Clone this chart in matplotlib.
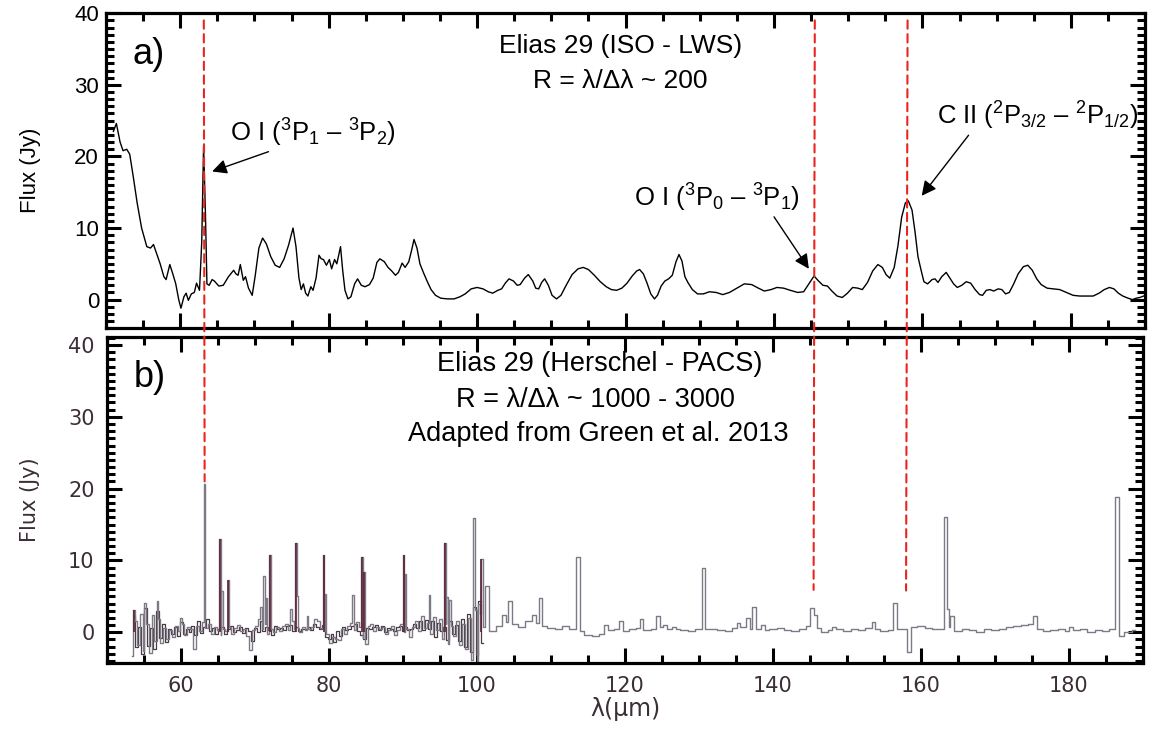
import numpy as np
import matplotlib
matplotlib.use("Agg")
import matplotlib.pyplot as plt
from matplotlib.patches import ConnectionPatch
from matplotlib.ticker import MultipleLocator

plt.rcParams['font.family'] = ['Liberation Sans', 'DejaVu Sans']
plt.rcParams['mathtext.fontset'] = 'custom'
plt.rcParams['mathtext.rm'] = 'Liberation Sans'
plt.rcParams['mathtext.default'] = 'regular'

# ---------------- ISO-LWS spectrum (panel a) ----------------
iso_wave = [51.0, 51.4, 51.9, 52.3, 52.8, 53.2, 53.7, 54.2, 54.8, 55.5, 56.0, 56.4, 56.9, 57.3, 57.8,
            58.1, 58.6, 59.0, 59.4, 59.8, 60.1, 60.5, 60.8, 61.1, 61.5, 61.9, 62.2, 62.6, 62.9, 63.15,
            63.4, 63.6, 63.9, 64.3, 64.6, 65.2, 65.8, 66.5, 67.2, 67.5, 67.8, 68.1, 68.5, 68.8, 69.2,
            69.7, 70.1, 70.6, 71.1, 71.6, 72.2, 72.8, 73.4, 74.0, 74.6, 75.2, 75.6, 76.0, 76.3, 76.6,
            76.9, 77.2, 77.6, 77.9, 78.3, 78.7, 79.0, 79.3, 79.7, 80.1, 80.4, 80.8, 81.1, 81.6, 81.9,
            82.2, 82.6, 83.0, 83.5, 83.9, 84.4, 84.9, 85.5, 86.0, 86.5, 86.9, 87.5, 88.0, 88.5, 89.0,
            89.4, 89.9, 90.3, 90.8, 91.2, 91.5, 91.9, 92.3, 92.8, 93.3, 93.8, 94.4, 95.1, 96.0, 96.9,
            97.7, 98.4, 99.2, 100.0, 100.8, 101.5, 102.1, 102.8, 103.3, 103.8, 104.3, 104.9, 105.4, 105.8,
            106.4, 106.9, 107.5, 107.9, 108.3, 108.7, 109.1, 109.6, 110.1, 110.7, 111.3, 112.0, 112.8,
            113.6, 114.3, 115.0, 115.8, 116.6, 117.4, 118.1, 118.8, 119.5, 120.2, 120.9, 121.5, 121.9,
            122.4, 122.9, 123.4, 123.9, 124.3, 124.8, 125.3, 125.8, 126.3, 126.8, 127.2, 127.6, 128.0,
            128.4, 129.0, 129.7, 130.5, 131.3, 132.2, 133.1, 134.0, 135.0, 136.0, 137.0, 137.9, 138.7,
            139.6, 140.4, 141.3, 142.2, 143.2, 144.0, 144.7, 145.4, 146.0, 146.6, 147.2, 147.8, 148.5,
            149.2, 149.9, 150.6, 151.3, 151.9, 152.6, 153.3, 154.0, 154.6, 155.1, 155.6, 156.2, 156.7,
            157.2, 157.7, 158.1, 158.6, 159.0, 159.4, 159.8, 160.2, 160.7, 161.3, 161.7, 162.1, 162.6,
            163.2, 163.7, 164.2, 164.7, 165.3, 165.9, 166.5, 167.1, 167.7, 168.1, 168.6, 169.1, 169.6,
            170.2, 170.7, 171.2, 171.7, 172.3, 172.9, 173.6, 174.2, 174.8, 175.4, 176.0, 176.8, 177.6,
            178.5, 179.4, 180.3, 181.2, 182.1, 183.0, 183.8, 184.5, 185.2, 185.8, 186.4, 187.0, 187.7,
            188.3, 188.8, 189.3, 189.8]
iso_flux = [23.5, 24.6, 22.0, 20.8, 21.0, 20.3, 17.0, 13.5, 10.0, 7.4, 7.2, 7.7, 6.2, 5.0, 3.2,
            2.8, 4.9, 3.6, 2.2, 0.0, -1.2, 0.4, 0.9, -0.1, 0.8, 1.0, 2.3, 1.3, 8.0, 21.5,
            12.0, 2.2, 2.0, 2.8, 2.6, 1.9, 2.0, 3.2, 4.1, 3.6, 3.4, 4.9, 2.7, 3.2, 1.6,
            0.6, 3.3, 7.2, 8.6, 7.8, 6.0, 4.8, 4.5, 5.7, 7.6, 10.0, 7.4, 3.0, 1.4, 2.2,
            0.9, 0.5, 1.8, 1.3, 3.0, 6.2, 5.7, 5.6, 4.8, 5.6, 4.3, 5.6, 5.0, 7.4, 4.0,
            1.3, 0.1, 0.4, 2.2, 2.9, 2.0, 1.8, 2.1, 3.0, 5.2, 5.7, 5.3, 4.5, 4.0, 3.4,
            3.8, 5.1, 4.5, 5.3, 7.0, 8.4, 7.2, 5.0, 3.7, 2.5, 1.4, 0.6, 0.2, 0.1, 0.1,
            0.4, 0.8, 1.5, 1.7, 1.5, 1.1, 0.9, 1.3, 1.5, 2.3, 2.9, 2.6, 2.0, 2.1,
            3.0, 3.5, 2.6, 1.6, 1.5, 2.4, 2.9, 2.0, 0.6, 0.1, 0.6, 2.0, 3.5,
            4.3, 4.5, 4.2, 3.4, 2.5, 1.8, 1.4, 1.3, 1.6, 2.3, 3.3, 4.0, 4.2,
            3.6, 2.3, 0.8, 0.1, 0.6, 1.9, 2.6, 2.9, 3.4, 5.3, 6.3, 5.4, 3.2,
            2.4, 1.4, 0.8, 0.8, 1.1, 1.0, 0.7, 1.0, 1.6, 2.2, 2.1, 1.6, 1.2,
            1.4, 1.7, 1.6, 1.3, 1.0, 1.1, 2.2, 3.3, 2.6, 2.0, 1.9, 1.2, 0.5,
            0.3, 0.9, 1.7, 1.6, 1.4, 2.4, 4.0, 4.9, 4.5, 3.5, 3.0, 4.5, 7.5,
            11.5, 13.5, 13.8, 12.5, 9.5, 6.0, 4.2, 2.5, 2.2, 2.8, 2.9, 2.4, 3.2,
            3.8, 3.0, 2.2, 1.7, 2.0, 2.5, 2.3, 1.4, 0.7, 0.6, 1.3, 1.4, 1.2,
            1.5, 1.4, 0.8, 1.0, 2.2, 3.6, 4.6, 4.8, 4.1, 2.9, 2.1, 1.6, 1.5,
            1.4, 1.0, 0.6, 0.5, 0.5, 0.5, 0.9, 1.4, 1.7, 1.5, 0.9, 0.5, 0.2,
            0.0, 0.2, 0.3, 0.5]

# ---------------- Herschel-PACS spectrum (panel b) ----------------
# blue-band noisy part, first segment sampled every 0.4 micron from 53.4
pacs_blue_start, pacs_blue_step = 53.4, 0.4
pacs_blue_flux = [-3.3, 1.5, -1.8, 2.6, -2.6, 1.2, -2.9, 2.4, -1.2, 1.8,
                  -1.5, 0.6, -0.9, 0.3, -0.6, 0.9, 0.2, 1.1, -0.4, 0.8,
                  0.5, -2.3, 0.9, 0.2, 1.4, 0.6, 1.2, -0.2, 0.8, 0.3,
                  -0.4, 0.5, 0.2, 0.7, -0.3, 0.6, 1.0, 0.2, 0.5, -0.5,
                  -2.5, 0.3, 0.9, 1.8, 0.4, 1.2, -0.3, 0.5, 0.0, 0.8,
                  0.2, 0.9, 1.1, 0.3, 1.6, 0.4, 0.6, 0.1, 0.8, 0.3,
                  0.5, 0.7, 1.9, 1.5, 0.6, 0.2, -0.3, -1.5, -0.6, -0.9,
                  -1.1, 0.4, -0.2, 0.9, 1.3, 0.3, 1.4, 0.7, -0.8, -1.6,
                  0.9, 1.1, 0.2, 0.8, 0.4, 0.7, -0.2, 0.3, 0.9, -0.4,
                  0.3, 1.2, 0.1, 0.5, -0.7, 0.8, 1.5, 0.2, 2.2, 0.6,
                  1.3, -0.2, 2.1, 0.3, 1.8, -0.9, 1.2, -1.6, 0.9, -0.5,
                  1.6, -1.8, 1.1, -2.4, 2.0, -3.8, 3.1, -4.0, 2.5]
# blue-band second (overlapping) segment, sampled every 0.4 micron from 53.6
pacs_blue2_start, pacs_blue2_step = 53.6, 0.4
pacs_blue2_flux = [2.2, -2.1, 0.8, -3.0, 3.4, -1.9, 0.6, -2.4, 2.9, -0.8,
                   1.2, -1.3, 0.4, -0.2, 0.7, -0.5, 1.4, -0.3, 0.5, 0.1,
                   0.9, -0.4, 1.6, -0.1, 0.7, 1.8, 0.2, 0.6, -0.3, 0.5,
                   0.8, -0.2, 0.4, 0.9, 0.1, 0.3, 0.7, -0.1, 0.6, 0.2,
                   -1.2, 0.6, 0.1, 1.5, 0.2, 0.7, 0.3, -0.4, 0.9, 0.4,
                   0.6, 0.3, 0.9, 1.0, 0.2, 0.8, 0.2, 0.5, 0.4, 0.7,
                   0.3, 1.2, 0.8, 0.4, 1.0, -0.6, -0.9, -0.2, -1.3, 0.2,
                   -0.5, 0.8, 0.3, 0.5, 0.9, 1.1, 0.2, -0.4, -0.9, 0.6,
                   0.4, 0.7, 1.0, 0.3, 0.9, 0.1, 0.6, 0.4, 0.2, 0.8,
                   0.9, 0.2, 0.8, 0.3, 0.4, 1.1, 0.6, 1.6, 0.3, 1.7,
                   0.4, 1.5, -0.6, 1.3, 0.2, 0.8, -1.1, 1.6, -0.2, 1.0,
                   -1.2, 1.9, -2.0, 2.6, -2.8, 3.5, -3.2, 4.4, -1.5]
# red-band part, sampled every 1 micron from 101 to 189
pacs_red_start, pacs_red_step = 101.0, 1.0
pacs_red_flux = [0.8, 0.2, 0.9, 1.4, 1.1, 0.7, 1.5, 1.3, 0.9, 0.6,
                 0.4, 0.9, 0.5, 0.2, -0.4, -0.5, -0.2, 0.3, 0.5, 0.2,
                 0.4, 0.6, 0.3, 0.5, 0.7, 0.4, 0.5, 0.3, 0.2, 0.4,
                 0.5, 0.4, 0.3, 0.2, 0.6, 0.8, 0.5, 0.4, 0.3, 0.5,
                 0.6, 0.3, 0.2, 0.5, 0.9, 0.6, 0.0, 0.3, 0.4, 0.2,
                 0.5, 0.3, 0.6, 0.4, 0.2, 0.3, 0.4, 0.5, 0.8, 0.9,
                 0.6, 0.4, 0.5, 0.7, 0.2, 0.5, 0.3, 0.1, 0.4, 0.3,
                 0.5, 0.7, 0.9, 1.0, 1.2, 0.4, 0.2, 0.3, 0.5, 0.2,
                 0.3, 0.4, 0.1, 0.3, 0.2, 0.4, -0.5, 0.1, 0.3]
# emission lines
line_wave = [53.6, 55.0, 56.8, 60.0, 63.18, 65.3, 65.45, 66.4, 70.8, 71.2, 71.5, 72.0, 74.9, 75.5,
             75.7, 77.0, 79.3, 79.45, 83.3, 84.5, 84.7, 90.1, 90.3, 93.6, 95.7, 95.9, 96.3,
             99.6, 100.2, 100.6, 101.2, 103.8, 104.4, 107.9, 108.7, 113.8, 117.3, 119.5, 122.0,
             124.4, 125.4, 126.8, 130.7, 135.2, 136.8, 137.4, 138.8, 145.1, 145.9, 148.0,
             153.7, 156.6, 158.2, 163.3, 163.7, 164.0, 175.3, 180.0, 186.6]
line_flux = [3.1, 4.1, 4.3, 2.0, 20.6, 13.0, 5.8, 7.3, 3.5, 7.8, 4.8, 10.7, 3.2, 12.4,
             5.0, 2.2, 10.7, 5.3, 5.2, 10.5, 8.4, 10.7, 8.1, 5.2, 12.4, 4.9, 4.5,
             15.9, 4.0, 10.2, 6.4, 2.4, 4.3, 2.4, 4.8, 10.5, 1.0, 1.5, 1.8,
             2.2, 1.0, 0.8, 8.9, 1.3, 2.0, 3.5, 1.0, 3.4, 2.4, 0.8,
             1.4, 4.1, -2.7, 16.1, 3.2, 2.2, 2.2, 0.8, 18.8]
# lines drawn from the darker segments
dark_line_wave = [53.6, 65.3, 66.4, 72.0, 75.5, 79.3, 84.5, 84.7, 90.1, 95.7, 100.6]
dark_line_flux = [3.1, 13.0, 7.3, 10.7, 12.4, 10.7, 10.5, 8.4, 10.7, 12.4, 10.2]

# line identifications
mark_wave = [63.18, 145.5, 158.0]
mark_flux_b = [21.0, 5.9, 5.8]

fig = plt.figure(figsize=(11.52, 7.36), dpi=100)
ax1 = fig.add_axes([0.092, 0.554, 0.902, 0.428])
ax2 = fig.add_axes([0.093, 0.099, 0.899, 0.443])

for ax in (ax1, ax2):
    for s in ax.spines.values():
        s.set_linewidth(2.3)
    ax.set_xlim(50, 190)
    ax.xaxis.set_major_locator(MultipleLocator(20))
    ax.xaxis.set_minor_locator(MultipleLocator(5))
    ax.yaxis.set_major_locator(MultipleLocator(10))
    ax.yaxis.set_minor_locator(MultipleLocator(1))
    ax.tick_params(which='both', direction='in', top=True, right=True, width=2.2)
    ax.tick_params(which='major', length=11)
    ax.tick_params(which='minor', length=5.5)

# panel a
ax1.plot(iso_wave, iso_flux, color='black', lw=1.0)
ax1.set_ylim(-4, 40)
ax1.set_yticks([0, 10, 20, 30, 40])
ax1.tick_params(labelbottom=False, labelsize=16, pad=5)
ax1.set_ylabel('Flux (Jy)', fontsize=16, labelpad=24)
ax1.text(55.8, 34.2, 'a)', fontsize=26, ha='center', va='center')
ax1.text(119.3, 35.4, 'Elias 29 (ISO - LWS)', fontsize=19, ha='center', va='center')
ax1.text(119.3, 30.6, 'R = λ/Δλ ~ 200', fontsize=19, ha='center', va='center')
ax1.annotate(r'O I ($^3$P$_1$ – $^3$P$_2$)', xy=(64.3, 17.9), xytext=(66.7, 23.3),
             fontsize=18.5, ha='left', va='center',
             arrowprops=dict(arrowstyle='-|>', color='black', lw=1.0, mutation_scale=22,
                             shrinkA=0, shrinkB=0, relpos=(0.28, 0.0)))
ax1.annotate(r'O I ($^3$P$_0$ – $^3$P$_1$)', xy=(144.7, 4.3), xytext=(121.2, 14.2),
             fontsize=18.5, ha='left', va='center',
             arrowprops=dict(arrowstyle='-|>', color='black', lw=1.0, mutation_scale=22,
                             shrinkA=0, shrinkB=0, relpos=(0.83, 0.0)))
ax1.annotate(r'C II ($^2$P$_{3/2}$ – $^2$P$_{1/2}$)', xy=(159.9, 14.5), xytext=(161.9, 25.6),
             fontsize=18.5, ha='left', va='center',
             arrowprops=dict(arrowstyle='-|>', color='black', lw=1.0, mutation_scale=22,
                             shrinkA=0, shrinkB=0, relpos=(0.17, 0.0)))

# panel b
blue_wave = pacs_blue_start + pacs_blue_step * np.arange(len(pacs_blue_flux))
blue2_wave = pacs_blue2_start + pacs_blue2_step * np.arange(len(pacs_blue2_flux))
red_wave = pacs_red_start + pacs_red_step * np.arange(len(pacs_red_flux))
ax2.plot(blue2_wave, pacs_blue2_flux, drawstyle='steps-mid', color='#4a3c45', lw=0.9)
all_wave = np.concatenate([blue_wave, red_wave, line_wave])
all_flux = np.concatenate([pacs_blue_flux, pacs_red_flux, line_flux])
order = np.argsort(all_wave, kind='stable')
ax2.plot(all_wave[order], all_flux[order], drawstyle='steps-mid', color='#7d7a86', lw=1.0)
ax2.vlines(dark_line_wave, 0, dark_line_flux, color='#5b2035', lw=1.2)

bcol = '#3b2e36'
ax2.set_ylim(-4.3, 41.1)
ax2.set_yticks([0, 10, 20, 30, 40])
ax2.set_xticks([60, 80, 100, 120, 140, 160, 180])
ax2.tick_params(labelsize=15, labelcolor=bcol, pad=9)
for lab in ax2.get_xticklabels() + ax2.get_yticklabels():
    lab.set_family('DejaVu Sans')
ax2.set_ylabel('Flux (Jy)', fontsize=15, color=bcol, family='DejaVu Sans', labelpad=20)
ax2.set_xlabel('λ(μm)', fontsize=17, color=bcol, family='DejaVu Sans', labelpad=1)
ax2.text(55.8, 35.5, 'b)', fontsize=26, ha='center', va='center')
ax2.text(116.6, 37.3, 'Elias 29 (Herschel - PACS)', fontsize=19.5, ha='center', va='center')
ax2.text(116.0, 32.4, 'R = λ/Δλ ~ 1000 - 3000', fontsize=19.5, ha='center', va='center')
ax2.text(116.4, 27.6, 'Adapted from Green et al. 2013', fontsize=19.5, ha='center', va='center')

for w, fb in zip(mark_wave, mark_flux_b):
    con = ConnectionPatch(xyA=(w, 39.0), coordsA=ax1.transData,
                          xyB=(w, fb), coordsB=ax2.transData,
                          color='#e8261f', lw=1.5, linestyle=(0, (4, 2.6)), zorder=10)
    fig.add_artist(con)

fig.savefig('out.png', dpi=100)
